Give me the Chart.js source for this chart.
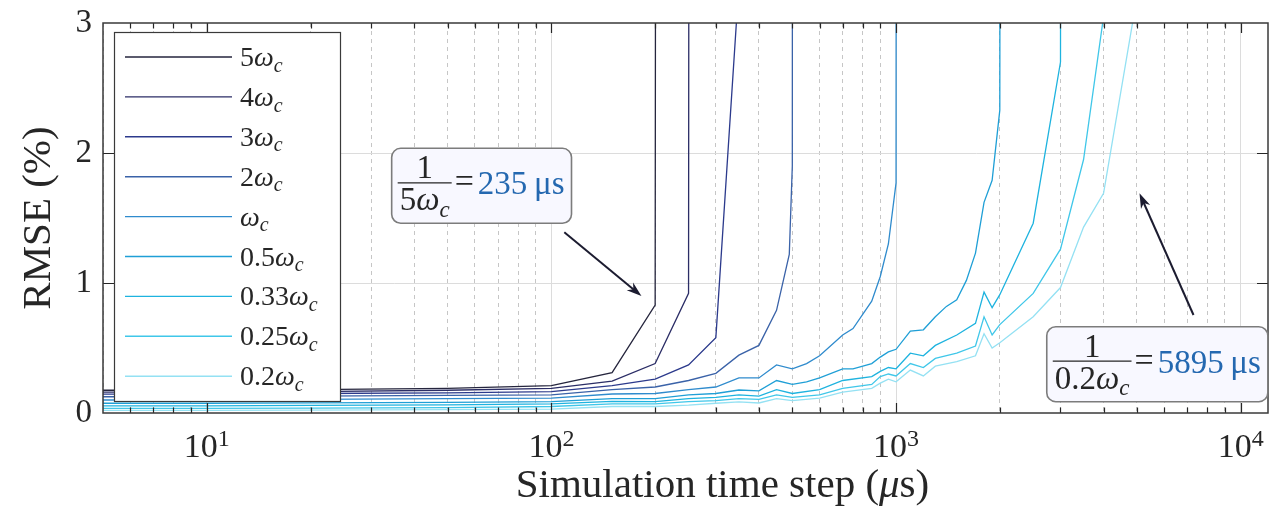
<!DOCTYPE html>
<html>
<head>
<meta charset="utf-8">
<script src="https://cdn.jsdelivr.net/npm/chart.js@4.4.1/dist/chart.umd.min.js"></script>
<style>
  html, body { margin: 0; padding: 0; background: #fff; }
  .grafica { width: 1279px; height: 508px; position: relative; }
</style>
</head>
<body>
<div class="grafica"><canvas id="rmseChart"></canvas></div>
<script>
const DIV = 1000 // diverged: far above the top of the axis
const n = null

// simulation time step (us)
const pasos = [5, 10, 20, 50, 100, 150, 200, 250, 300, 350, 400, 450, 490, 500, 550, 600, 700, 750, 850, 900, 950, 1000, 1100, 1200, 1300, 1400, 1500, 1600, 1700, 1800, 1900, 2000, 2500, 3000, 3500, 4000, 4500, 5000]

// RMSE (%) for each cut-off multiple
const rmse5wc = [0.175, 0.175, 0.18, 0.19, 0.21, 0.31, 0.83, DIV]
const rmse4wc = [0.16, 0.16, 0.165, 0.175, 0.19, 0.245, 0.38, 0.92, DIV]
const rmse3wc = [0.145, 0.145, 0.15, 0.155, 0.165, 0.21, 0.26, 0.37, 0.58, 3.3]
const rmse2wc = [0.125, 0.125, 0.13, 0.135, 0.14, 0.18, 0.20, 0.25, 0.305, 0.445, 0.52, 0.79, 1.22, 1.9, DIV]
const rmse1wc = [0.10, 0.10, 0.105, 0.11, 0.115, 0.146, 0.15, 0.18, 0.20, 0.27, 0.27, 0.37, n, 0.34, 0.38, 0.44, 0.60, 0.65, 0.86, 1.05, 1.3, 1.77, DIV]
const rmse05wc = [0.075, 0.075, 0.078, 0.082, 0.087, 0.11, 0.11, 0.14, 0.15, 0.177, 0.17, 0.25, n, 0.22, 0.24, 0.27, 0.34, 0.34, 0.38, 0.43, 0.47, 0.49, 0.63, 0.64, 0.74, 0.82, 0.87, 1.02, 1.23, 1.62, 1.79, 2.33, DIV]
const rmse033wc = [0.055, 0.055, 0.058, 0.062, 0.07, 0.09, 0.087, 0.11, 0.12, 0.14, 0.13, 0.18, n, 0.15, n, 0.18, 0.25, n, 0.28, 0.32, 0.35, 0.34, 0.46, 0.44, 0.52, n, 0.60, n, 0.69, 0.93, 0.81, 0.91, 1.46, 2.70, DIV]
const rmse025wc = [0.035, 0.035, 0.038, 0.042, 0.05, 0.07, 0.07, 0.087, 0.095, 0.11, 0.105, 0.14, n, 0.12, n, 0.14, 0.19, n, 0.22, 0.28, 0.30, 0.285, 0.38, 0.35, 0.42, n, 0.46, n, 0.515, 0.74, 0.60, 0.68, 0.92, 1.26, 1.95, 3.05, DIV]
const rmse02wc = [0.02, 0.02, 0.022, 0.026, 0.03, 0.05, 0.05, 0.06, 0.075, 0.085, 0.077, 0.11, n, 0.095, n, 0.115, 0.16, n, 0.19, 0.23, 0.26, 0.24, 0.33, 0.285, 0.36, n, 0.395, n, 0.44, 0.61, 0.50, 0.54, 0.74, 0.965, 1.43, 1.69, n, 3.2]

const multiplos = ['5', '4', '3', '2', '', '0.5', '0.33', '0.25', '0.2']
const colores = ['#25253d', '#2b2d66', '#2c3a8c', '#3a62a8', '#2f8bcd', '#1f9fd6', '#1eb3df', '#40c7e9', '#94e1f3']
const series = [rmse5wc, rmse4wc, rmse3wc, rmse2wc, rmse1wc, rmse05wc, rmse033wc, rmse025wc, rmse02wc]

const yTicks = [0, 1, 2, 3]
const xMin = 5
const xMax = 12000

// callouts: box top-left, arrow tail, arrow tip (data units) and text
const nota1 = { caja: [34.4, 2.036], cola: [109, 1.39], punta: [182.5, 0.9], den: '5', valor: '235' }
const nota2 = { caja: [2737, 0.664], cola: [7295, 0.754], punta: [5085, 1.69], den: '0.2', valor: '5895' }

const SERIF = '"Liberation Serif", "DejaVu Serif", serif'
const TINTA = '#262626'
const AZUL = '#2468b0'

function fuente(size, italic) {
  return (italic ? 'italic ' : '') + size + 'px ' + SERIF
}

function esPotencia(v) {
  const l = Math.log10(v)
  return Math.abs(l - Math.round(l)) < 1e-9
}

function puntos(vals) {
  const out = []
  for (let i = 0; i < vals.length; i++) {
    if (vals[i] != null) out.push({ x: pasos[i], y: vals[i] })
  }
  return out
}

function omegaC(pre, size) {
  return [
    { t: pre, s: size },
    { t: 'ω', s: size, i: true },
    { t: 'c', s: Math.round(size * 0.7), i: true, dy: size * 0.2 }
  ]
}

function ancho(ctx, partes) {
  let w = 0
  for (const p of partes) {
    ctx.font = fuente(p.s, p.i)
    w += ctx.measureText(p.t).width
  }
  return w
}

function escribe(ctx, partes, x, y) {
  for (const p of partes) {
    ctx.font = fuente(p.s, p.i)
    ctx.fillStyle = p.c || TINTA
    ctx.fillText(p.t, x, y + (p.dy || 0))
    x += ctx.measureText(p.t).width
  }
  return x
}

function cajaRedonda(ctx, x, y, w, h, r) {
  ctx.beginPath()
  ctx.moveTo(x + r, y)
  ctx.arcTo(x + w, y, x + w, y + h, r)
  ctx.arcTo(x + w, y + h, x, y + h, r)
  ctx.arcTo(x, y + h, x, y, r)
  ctx.arcTo(x, y, x + w, y, r)
  ctx.closePath()
}

function flecha(ctx, x1, y1, x2, y2) {
  const ang = Math.atan2(y2 - y1, x2 - x1)
  const L = 15, W = 5
  ctx.strokeStyle = '#1c1c30'
  ctx.fillStyle = '#1c1c30'
  ctx.lineWidth = 2
  ctx.beginPath()
  ctx.moveTo(x1, y1)
  ctx.lineTo(x2 - Math.cos(ang) * L * 0.6, y2 - Math.sin(ang) * L * 0.6)
  ctx.stroke()
  ctx.beginPath()
  ctx.moveTo(x2, y2)
  ctx.lineTo(x2 - L * Math.cos(ang) + W * Math.sin(ang), y2 - L * Math.sin(ang) - W * Math.cos(ang))
  ctx.lineTo(x2 - L * 0.7 * Math.cos(ang), y2 - L * 0.7 * Math.sin(ang))
  ctx.lineTo(x2 - L * Math.cos(ang) - W * Math.sin(ang), y2 - L * Math.sin(ang) + W * Math.cos(ang))
  ctx.closePath()
  ctx.fill()
}

function globo(ctx, sx, sy, nota) {
  const px = sx.getPixelForValue(nota.caja[0])
  const py = sy.getPixelForValue(nota.caja[1])
  const num = [{ t: '1', s: 33 }]
  const den = omegaC(nota.den, 33)
  const val = [{ t: nota.valor + '\u2009μs', s: 33, c: AZUL }]
  const igual = [{ t: '=', s: 34 }]
  const wNum = ancho(ctx, num), wDen = ancho(ctx, den)
  const wFrac = Math.max(wNum, wDen) + 4
  const wEq = ancho(ctx, igual), wVal = ancho(ctx, val)
  const w = 6 + wFrac + 3 + wEq + 4 + wVal + 7
  const h = 75

  cajaRedonda(ctx, px, py, w, h, 9)
  ctx.fillStyle = '#f8f8ff'
  ctx.fill()
  ctx.strokeStyle = '#7c7c7c'
  ctx.lineWidth = 1.6
  ctx.stroke()

  const cx = px + 6 + wFrac / 2
  escribe(ctx, num, cx - wNum / 2, py + 30)
  ctx.strokeStyle = TINTA
  ctx.lineWidth = 1.3
  ctx.beginPath()
  ctx.moveTo(px + 6, py + 34.5)
  ctx.lineTo(px + 6 + wFrac, py + 34.5)
  ctx.stroke()
  escribe(ctx, den, cx - wDen / 2, py + 62)
  const x = escribe(ctx, igual, px + 6 + wFrac + 3, py + 44)
  escribe(ctx, val, x + 4, py + 46)

  flecha(ctx, sx.getPixelForValue(nota.cola[0]), sy.getPixelForValue(nota.cola[1]),
    sx.getPixelForValue(nota.punta[0]), sy.getPixelForValue(nota.punta[1]))
}

const dibujoExtra = {
  id: 'dibujoExtra',
  afterDraw(chart) {
    const ctx = chart.ctx
    const a = chart.chartArea
    const sx = chart.scales.x
    const sy = chart.scales.y
    ctx.save()
    ctx.textBaseline = 'alphabetic'
    ctx.textAlign = 'left'

    // inward tick marks
    ctx.strokeStyle = TINTA
    ctx.lineWidth = 1.2
    ctx.beginPath()
    for (const t of sx.ticks) {
      const p = Math.round(sx.getPixelForValue(t.value)) + 0.5
      if (p <= a.left + 1 || p >= a.right - 1) continue
      const L = esPotencia(t.value) ? 10 : 5.5
      ctx.moveTo(p, a.bottom); ctx.lineTo(p, a.bottom - L)
      ctx.moveTo(p, a.top); ctx.lineTo(p, a.top + L)
    }
    for (const v of yTicks) {
      const p = Math.round(sy.getPixelForValue(v)) + 0.5
      if (p <= a.top + 1 || p >= a.bottom - 1) continue
      ctx.moveTo(a.left, p); ctx.lineTo(a.left + 11, p)
      ctx.moveTo(a.right, p); ctx.lineTo(a.right - 11, p)
    }
    ctx.stroke()

    // frame
    ctx.strokeStyle = '#3a3a3a'
    ctx.lineWidth = 1.5
    ctx.strokeRect(a.left, a.top, a.right - a.left, a.bottom - a.top)

    // x tick labels 10^k
    for (const t of sx.ticks) {
      if (!esPotencia(t.value)) continue
      const k = Math.round(Math.log10(t.value))
      const partes = [{ t: '10', s: 34 }, { t: String(k), s: 24, dy: -11 }]
      const w = ancho(ctx, partes)
      escribe(ctx, partes, sx.getPixelForValue(t.value) - w / 2, a.bottom + 44)
    }

    // x axis title
    const tit = [{ t: 'Simulation time step (', s: 41 }, { t: 'μ', s: 41, i: true }, { t: 's)', s: 41 }]
    const wt = ancho(ctx, tit)
    escribe(ctx, tit, (a.left + a.right) / 2 + 37 - wt / 2, a.bottom + 84)

    // legend
    const lx = a.left + 11, ly = a.top + 9, lw = 226, lh = 369
    ctx.fillStyle = '#ffffff'
    ctx.fillRect(lx, ly, lw, lh)
    ctx.strokeStyle = '#3a3a3a'
    ctx.lineWidth = 1.2
    ctx.strokeRect(lx + 0.5, ly + 0.5, lw, lh)
    chart.data.datasets.forEach((ds, i) => {
      const yy = ly + 25 + i * 39.9
      ctx.strokeStyle = ds.borderColor
      ctx.lineWidth = 1.4
      ctx.beginPath()
      ctx.moveTo(lx + 11, yy); ctx.lineTo(lx + 118, yy)
      ctx.stroke()
      escribe(ctx, omegaC(multiplos[i], 28), lx + 126, yy + 9)
    })

    globo(ctx, sx, sy, nota1)
    globo(ctx, sx, sy, nota2)
    ctx.restore()
  }
}

const datasets = series.map((vals, i) => ({
  label: multiplos[i] + 'ωc',
  data: puntos(vals),
  borderColor: colores[i],
  backgroundColor: colores[i],
  borderWidth: 1.3,
  pointRadius: 0,
  fill: false,
  tension: 0,
  order: series.length - i
}))

new Chart(document.getElementById('rmseChart'), {
  type: 'line',
  data: { datasets: datasets },
  plugins: [dibujoExtra],
  options: {
    responsive: true,
    maintainAspectRatio: false,
    animation: false,
    layout: { padding: { top: 23, right: 11, left: 0, bottom: 0 } },
    plugins: { legend: { display: false }, tooltip: { enabled: false } },
    scales: {
      x: {
        type: 'logarithmic',
        min: xMin,
        max: xMax,
        bounds: 'data',
        afterBuildTicks: (scale) => {
          const t = []
          for (let k = 0; k <= 4; k++) {
            for (let m = 1; m <= 9; m++) {
              const v = m * Math.pow(10, k)
              if (v >= xMin && v <= xMax) t.push({ value: v })
            }
          }
          scale.ticks = t
        },
        afterFit: (scale) => { scale.height = 95 },
        ticks: { display: false },
        grid: {
          drawTicks: false,
          lineWidth: 1,
          color: (c) => (c.tick && esPotencia(c.tick.value)) ? '#dcdcdc' : '#c6c6c6'
        },
        border: {
          display: false,
          dash: (c) => (c.tick && !esPotencia(c.tick.value)) ? [4, 4] : []
        }
      },
      y: {
        min: 0,
        max: 3,
        afterBuildTicks: (scale) => { scale.ticks = yTicks.map(v => ({ value: v })) },
        afterFit: (scale) => { scale.width = 103 },
        ticks: {
          padding: 11,
          color: TINTA,
          font: { family: SERIF, size: 33, lineHeight: 0.5 },
          callback: (v) => String(v)
        },
        grid: {
          drawTicks: false,
          lineWidth: 1,
          color: (c) => (c.tick && (c.tick.value === 1 || c.tick.value === 2)) ? '#dcdcdc' : 'rgba(0,0,0,0)'
        },
        border: { display: false },
        title: {
          display: true,
          text: 'RMSE (%)',
          color: TINTA,
          font: { family: SERIF, size: 41 },
          padding: { top: 15, bottom: 0 }
        }
      }
    }
  }
})
</script>
</body>
</html>
